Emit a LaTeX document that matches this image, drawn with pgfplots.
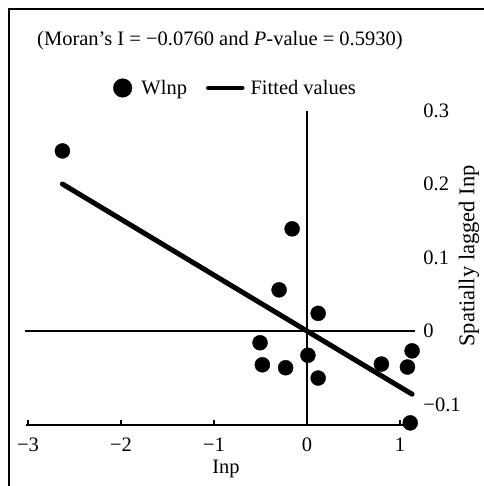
\documentclass[border=0pt]{standalone}
\usepackage{fontspec}
\setmainfont{Liberation Serif}
\usepackage{pgfplots}
\pgfplotsset{compat=1.18}
\newcommand{\fs}{\fontsize{20.5bp}{24bp}\selectfont}
\begin{document}
\begin{tikzpicture}[font=\fs]
\path[use as bounding box] (0,0) rectangle (484bp,486bp);
\begin{axis}[
  at={(18.7bp,59.45bp)}, anchor=south west,
  scale only axis, width=404.55bp, height=330.75bp,
  xmin=-3.1, xmax=1.25, ymin=-0.13, ymax=0.32,
  axis line style={draw=none},
  major tick length=0pt,
  xtick={-3,-2,-1,0,1}, xticklabels={−3,−2,−1,0,1},
  ytick={-0.1,0,0.1,0.2,0.3}, yticklabels={−0.1,0,0.1,0.2,0.3},
  yticklabel pos=right,
  xticklabel style={anchor=north, inner sep=0pt, yshift=-11.5bp},
  yticklabel style={anchor=west, inner sep=0pt},
  tick label style={font=\fs},
  clip=false,
  legend columns=2,
  legend style={at={(0.2335,1.0236)}, anchor=west, draw=none, fill=none,
    inner sep=0pt, font=\fs, nodes={inner sep=0pt},
    /tikz/column 1/.append style={column sep=9.5bp},
    /tikz/column 2/.append style={column sep=19bp},
    /tikz/column 3/.append style={column sep=6bp}},
]
\draw[line width=2bp] (axis cs:-3.02,-0.128) -- (axis cs:1.11,-0.128);
\draw[line width=1.5bp] (axis cs:-3,-0.128) -- ++(0pt,5bp);
\draw[line width=1.5bp] (axis cs:-2,-0.128) -- ++(0pt,5bp);
\draw[line width=1.5bp] (axis cs:-1,-0.128) -- ++(0pt,5bp);
\draw[line width=1.5bp] (axis cs:0,-0.128) -- ++(0pt,5bp);
\draw[line width=1.5bp] (axis cs:1,-0.128) -- ++(0pt,5bp);
\draw[line width=2bp] (axis cs:-3.03,0) -- (axis cs:1.16,0);
\draw[line width=2bp] (axis cs:0,-0.128) -- (axis cs:0,0.299);
\addplot[only marks, mark=*, mark size=7.5bp, black,
  legend image code/.code={\draw[black, mark=*, mark size=9.3bp] plot coordinates {(0bp,0bp)};}]
  coordinates {
  (-2.63,0.245) (-0.16,0.139) (-0.30,0.056) (0.12,0.024)
  (-0.505,-0.016) (-0.48,-0.046) (-0.23,-0.050) (0.01,-0.033)
  (0.12,-0.064) (0.80,-0.045) (1.13,-0.027) (1.08,-0.049) (1.11,-0.125)
  };
\addlegendentry{Wlnp}
\addplot[black, line width=5bp, line cap=round,
  legend image code/.code={\draw[black, line width=4.5bp] (0bp,0bp) -- (34bp,0bp);}]
  coordinates {(-2.63,0.200) (1.13,-0.086)};
\addlegendentry{Fitted values}
\end{axis}
\draw[line width=2.5bp] (9bp,0bp) -- (9bp,477bp) -- (484bp,477bp);
\node[anchor=base west, inner sep=0pt] at (37bp,440bp) {(Moran’s I = −0.0760 and \textit{P}-value = 0.5930)};
\node[anchor=base, inner sep=0pt] at (226bp,13bp) {Inp};
\node[rotate=90, inner sep=0pt, font=\fontsize{22.5bp}{26bp}\selectfont] at (469bp,230bp) {Spatially lagged Inp};
\end{tikzpicture}
\end{document}
